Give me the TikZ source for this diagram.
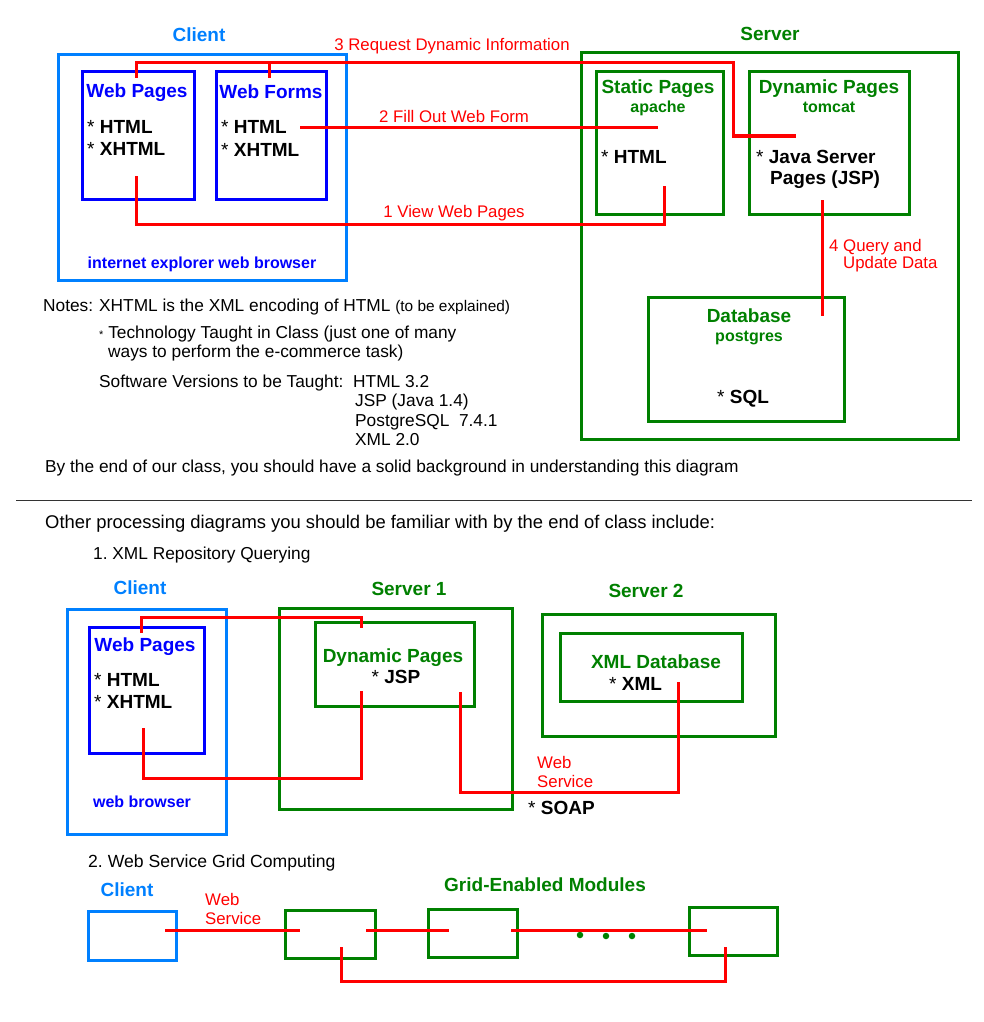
\documentclass[tikz,border=0pt]{standalone}
\usepackage{fontspec}
\setmainfont{Liberation Sans}
\usepackage{tikz}
\usetikzlibrary{positioning}
\usetikzlibrary{calc}
\definecolor{clientblue}{HTML}{0080FF}
\definecolor{pageblue}{HTML}{0000FF}
\definecolor{servergreen}{HTML}{008000}
\definecolor{wirered}{HTML}{FF0000}
\tikzstyle{panel}=[rectangle,draw,line width=3pt,inner sep=0pt,outer sep=0pt]
\tikzstyle{wire} = [draw,wirered,line width=3pt]
\tikzstyle{boxtitle}=[inner sep=0pt,anchor=base,font=\fontsize{19}{22}\selectfont\bfseries]
\tikzstyle{boxsub}=[inner sep=0pt,anchor=base,font=\fontsize{16}{19}\selectfont\bfseries]
\tikzstyle{techitem}=[inner sep=0pt,anchor=base west,font=\fontsize{19}{22}\selectfont\bfseries]
\tikzstyle{notetext}=[inner sep=0pt,anchor=base west,font=\fontsize{17.3}{20}\selectfont]
\tikzstyle{wiretext}=[inner sep=0pt,anchor=base,text=wirered,font=\fontsize{16.8}{19}\selectfont]
\tikzstyle{griddot}=[circle,fill=servergreen,minimum size=6.5pt,inner sep=0pt]
\newcommand{\tstar}{{\mdseries *}\ }
\begin{document}
\frenchspacing
\begin{tikzpicture}[x=1pt,y=-1pt]
  \useasboundingbox (0,0) rectangle (983,1022);

  % boxes
  \foreach \name/\x/\y/\w/\h/\col in {client/202/167.5/288/225/clientblue, webpages/138/135.5/112/127/pageblue,
      webforms/271/135.5/110/127/pageblue, server/769.5/246/377/386/servergreen,
      static/659.5/143/127/142/servergreen, dynamic/829/143/160/142/servergreen,
      database/746/359/196/124/servergreen,
      client2/146.5/721.5/159/225/clientblue, webpages2/146.5/690/115/126/pageblue,
      server1/395.5/708.5/233/201/servergreen, dynamic2/394.5/664/159/84/servergreen,
      server2/658.5/675/233/122/servergreen, xmldb/651/667/182/68/servergreen,
      client3/132/935.5/88/49/clientblue, module1/330/934/90/48/servergreen,
      module2/472.5/933/89/48/servergreen, module3/733/931/88/48/servergreen}
    \node[panel,draw=\col,minimum width=\w pt,minimum height=\h pt] (\name) at (\x,\y) {};

  % client / server, top
  \node[boxtitle,text=clientblue] (clientLbl) at (199,42) {Client};
  \node[boxtitle,text=pageblue] (wpLbl) at (137,98) {Web Pages};
  \node[techitem] (wpHtml) at (87,133) {\tstar HTML};
  \node[techitem] (wpXhtml) at (87,155) {\tstar XHTML};
  \node[boxtitle,text=pageblue] (wfLbl) at (271,99) {Web Forms};
  \node[techitem] (wfHtml) at (221,134) {\tstar HTML};
  \node[techitem] (wfXhtml) at (221,156) {\tstar XHTML};
  \node[boxsub,text=pageblue] (browserLbl) at (202,268) {internet explorer web browser};

  \node[boxtitle,text=servergreen] (serverLbl) at (770,41) {Server};
  \node[boxtitle,text=servergreen] (stLbl) at (658,94) {Static Pages};
  \node[boxsub,text=servergreen] (stSub) at (658,113) {apache};
  \node[techitem] (stHtml) at (601,163) {\tstar HTML};
  \node[boxtitle,text=servergreen] (dpLbl) at (829,94) {Dynamic Pages};
  \node[boxsub,text=servergreen] (dpSub) at (829,113) {tomcat};
  \node[techitem] (dpJava) at (756,163) {\tstar Java Server};
  \node[techitem] (dpJsp) at (770,184) {Pages (JSP)};
  \node[boxtitle,text=servergreen] (dbLbl) at (749,322) {Database};
  \node[boxsub,text=servergreen] (dbSub) at (749,341) {postgres};
  \node[techitem] (dbSql) at (717,403) {\tstar SQL};

  \node[wiretext] (reqLbl) at (452,51) {3 Request Dynamic Information};
  \node[wiretext] (fillLbl) at (454,123) {2 Fill Out Web Form};
  \node[wiretext] (viewLbl) at (454,217) {1 View Web Pages};
  \node[wiretext,anchor=base west] (queryLbl) at (829,251) {4 Query and};
  \node[wiretext,anchor=base west] (updateLbl) at (843,268) {Update Data};

  % notes
  \node[notetext] (notesHd) at (43,311) {Notes:};
  \node[notetext] (note1) at (99,311) {XHTML is the XML encoding of HTML {\fontsize{15.4}{18}\selectfont(to be explained)}};
  \node[notetext] (note2) at (99,338) {{\fontsize{11}{11}\selectfont *} Technology Taught in Class (just one of many};
  \node[notetext] (note3) at (108,357) {ways to perform the e-commerce task)};
  \node[notetext] (verHd) at (99,387) {Software Versions to be Taught:};
  \foreach \name/\x/\y/\txt in {verHtml/353/387/HTML 3.2, verJsp/355/406/JSP (Java 1.4),
      verPg/355/426/PostgreSQL\ \ 7.4.1, verXml/355/445/XML 2.0}
    \node[notetext] (\name) at (\x,\y) {\txt};
  \node[notetext] (summary) at (45,472) {By the end of our class, you should have a solid background in understanding this diagram};

  \coordinate (sepL) at (16,500);
  \coordinate (sepR) at (972,500);
  \draw[line width=1pt,black!80] (sepL) -- (sepR);

  \node[notetext,font=\fontsize{18.4}{21}\selectfont] (otherHd) at (45,528) {Other processing diagrams you should be familiar with by the end of class include:};
  \node[notetext] (xmlHd) at (93,559) {1. XML Repository Querying};

  % xml repository querying
  \node[boxtitle,text=clientblue] (client2Lbl) at (140,594) {Client};
  \node[boxtitle,text=servergreen] (server1Lbl) at (409,595) {Server 1};
  \node[boxtitle,text=servergreen] (server2Lbl) at (646,597) {Server 2};
  \node[boxtitle,text=pageblue] (wp2Lbl) at (145,651) {Web Pages};
  \node[techitem] (wp2Html) at (94,686) {\tstar HTML};
  \node[techitem] (wp2Xhtml) at (94,708) {\tstar XHTML};
  \node[boxsub,text=pageblue] (browser2Lbl) at (142,807) {web browser};
  \node[boxtitle,text=servergreen] (dyn2Lbl) at (393,662) {Dynamic Pages};
  \node[techitem,anchor=base] (dyn2Jsp) at (396,683) {\tstar JSP};
  \node[boxtitle,text=servergreen] (xmlLbl) at (656,668) {XML Database};
  \node[techitem] (xmlItem) at (609,690) {\tstar XML};
  \node[wiretext,anchor=base west] (ws2a) at (537,768) {Web};
  \node[wiretext,anchor=base west] (ws2b) at (537,787) {Service};
  \node[techitem] (soapItem) at (528,814) {\tstar SOAP};

  % grid computing
  \node[notetext,font=\fontsize{17.6}{20}\selectfont] (gridHd) at (88,867) {2. Web Service Grid Computing};
  \node[boxtitle,text=clientblue] (client3Lbl) at (127,896) {Client};
  \node[boxtitle,text=servergreen] (gridLbl) at (545,891) {Grid-Enabled Modules};
  \node[wiretext,anchor=base west] (ws3a) at (205,905) {Web};
  \node[wiretext,anchor=base west] (ws3b) at (205,924) {Service};
  \foreach \name/\x/\y in {dotA/580/935, dotB/606/936, dotC/632/936}
    \node[griddot] (\name) at (\x,\y) {};

  % wire ends
  \foreach \name/\x/\y in {wpA/136/78, wfA/269/78, reqBend/733/63, dpIn/796/136,
      wfB/300/128, stB/658/128, wpB/136/176, viewLow/664/224, stC/664/186,
      dpOut/822/200, dbIn/822/316,
      wp2A/141/633, dyn2Top/361/617, dyn2A/361/628, wp2B/143/728, wp2Low/361/778, dyn2B/361/691,
      dyn2C/460/692, soapLow/678/792, xmlA/678/682,
      c3A/165/930, m1A/300/930, m1B/366/930, m2A/449/930, m2B/511/930, m3A/707/930,
      m1C/341/947, gridLow/725/981, m3C/725/947}
    \coordinate (\name) at (\x,\y);

  \path[wire] (wpA) |- (reqBend) |- (dpIn);
  \path[wire] (wfA) -- (wfA |- reqBend);
  \path[wire] (wfB) -- (stB);
  \path[wire] (wpB) |- (viewLow) -- (stC);
  \path[wire] (dpOut) -- (dbIn);

  \path[wire] (wp2A) |- (dyn2Top) -- (dyn2A);
  \path[wire] (wp2B) |- (wp2Low) -- (dyn2B);
  \path[wire] (dyn2C) |- (soapLow) -- (xmlA);

  \foreach \source/ \dest in {c3A/m1A, m1B/m2A, m2B/m3A}
    \path[wire] (\source) -- (\dest);
  \path[wire] (m1C) |- (gridLow) -- (m3C);

\end{tikzpicture}
\end{document}
